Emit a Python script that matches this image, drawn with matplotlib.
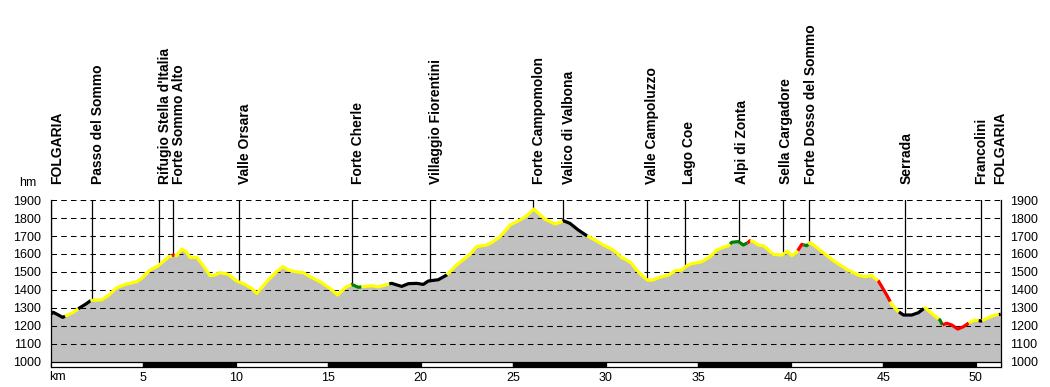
import numpy as np
import matplotlib
matplotlib.use("Agg")
import matplotlib.pyplot as plt
from matplotlib.patches import Rectangle

plt.rcParams["font.family"] = ["Liberation Sans", "DejaVu Sans"]
plt.rcParams["lines.scale_dashes"] = False

# ── Data ──────────────────────────────────────────────────────────────────────

dist_km = [0.0, 0.14, 0.4, 0.65, 0.83, 1.2, 1.58, 1.9, 2.13, 2.31, 2.76, 3.1,
           3.57, 4.02, 4.65, 4.92, 5.37, 5.82, 6.36, 6.63, 6.81, 7.08, 7.32,
           7.53, 7.89, 8.25, 8.61, 8.88, 9.15, 9.6, 9.96, 10.14, 10.5, 10.86,
           11.14, 11.76, 12.21, 12.54, 12.85, 13.21, 13.66, 14.02, 14.56, 15.1,
           15.51, 16.0, 16.27, 16.63, 16.9, 17.35, 17.71, 18.25, 18.43, 18.97,
           19.33, 19.78, 20.14, 20.41, 20.95, 21.4, 21.94, 22.66, 23.02, 23.56,
           23.83, 24.29, 24.83, 25.37, 25.73, 26.11, 26.72, 27.26, 27.53, 27.71,
           28.07, 28.52, 28.97, 29.33, 29.87, 30.41, 30.86, 31.04, 31.4, 31.67,
           31.94, 32.27, 32.57, 32.85, 33.39, 33.74, 34.1, 34.38, 34.64, 35.19,
           35.64, 36.0, 36.36, 36.63, 36.81, 37.17, 37.44, 37.71, 37.8, 37.98,
           38.25, 38.52, 38.7, 39.06, 39.51, 39.84, 40.05, 40.32, 40.6, 40.86,
           41.04, 41.4, 41.85, 42.39, 43.1, 43.65, 44.0, 44.38, 44.74, 45.19,
           45.46, 45.82, 46.1, 46.54, 46.9, 47.26, 47.62, 48.07, 48.2, 48.43,
           48.7, 49.03, 49.33, 49.6, 49.93, 50.3, 50.68, 51.04, 51.35]
elev_m = [1265, 1276, 1262, 1248, 1257, 1275, 1302, 1322, 1339, 1343, 1346, 1368,
          1413, 1431, 1446, 1465, 1511, 1535, 1583, 1594, 1591, 1628, 1613,
          1581, 1581, 1535, 1480, 1483, 1496, 1487, 1456, 1446, 1431, 1409,
          1381, 1456, 1502, 1530, 1511, 1502, 1496, 1474, 1446, 1409,
          1372, 1419, 1431, 1415, 1419, 1424, 1417, 1433, 1437, 1420,
          1435, 1437, 1431, 1450, 1457, 1483, 1539, 1598, 1641, 1650,
          1663, 1696, 1761, 1789, 1813, 1850, 1793, 1767, 1776, 1785,
          1770, 1733, 1702, 1683, 1650, 1622, 1581, 1572, 1548, 1511,
          1483, 1454, 1456, 1469, 1483, 1506, 1511, 1535, 1546, 1557,
          1585, 1622, 1637, 1646, 1665, 1669, 1650, 1665, 1674, 1669,
          1650, 1646, 1631, 1598, 1594, 1616, 1591, 1609, 1654, 1646,
          1663, 1637, 1600, 1557, 1511, 1483, 1474, 1480, 1450, 1372,
          1320, 1280, 1261, 1261, 1274, 1302, 1270, 1233, 1206, 1215,
          1206, 1183, 1196, 1215, 1233, 1228, 1246, 1261, 1265]

# surface / difficulty segments along the route
seg_start = [0.0, 0.78, 1.49, 2.16, 6.55, 6.7, 16.25, 16.8, 18.3, 21.42, 27.67,
             29.0, 36.72, 37.66, 37.82, 40.38, 40.68, 40.95, 44.72, 45.38,
             45.85, 47.2, 48.0, 48.2, 49.62, 50.16, 50.34, 51.25]
seg_color = ["black", "yellow", "black", "yellow", "red", "yellow", "green",
             "yellow", "black", "yellow", "black", "yellow", "green", "red",
             "yellow", "red", "green", "yellow", "red", "yellow", "black",
             "yellow", "green", "red", "yellow", "black", "yellow", "black"]

wp_names = ["FOLGARIA", "Passo del Sommo", "Rifugio Stella d'Italia",
            "Forte Sommo Alto", "Valle Orsara", "Forte Cherle",
            "Villaggio Fiorentini", "Forte Campomolon", "Valico di Valbona",
            "Valle Campoluzzo", "Lago Coe", "Alpi di Zonta", "Sella Cargadore",
            "Forte Dosso del Sommo", "Serrada", "Francolini", "FOLGARIA"]
wp_km = [0.0, 2.22, 5.84, 6.63, 10.2, 16.3, 20.49, 26.09, 27.7, 32.25, 34.3,
         37.19, 39.6, 41.0, 46.2, 50.3, 51.35]

y_ticks = list(range(1000, 2000, 100))
x_ticks = list(range(5, 55, 5))

# ── Plot ──────────────────────────────────────────────────────────────────────

x = np.array(dist_km)
h = np.array(elev_m)
total = x[-1]
y_bot, y_top = 975, 1900

fig = plt.figure(figsize=(10.5, 3.87), dpi=100)
ax = fig.add_axes([50.7 / 1050, (387 - 366.5) / 387, 950 / 1050, 166.5 / 387])
ax.set_xlim(0, total)
ax.set_ylim(y_bot, y_top)

ax.fill_between(x, h, 1000, color="#c0c0c0", lw=0, zorder=1)
for yv in y_ticks[1:]:
    ax.axhline(yv, color="black", lw=0.75, ls=(0, (4, 3)), zorder=2)

# coloured profile line
seg_end = seg_start[1:] + [total]
for a, b, c in zip(seg_start, seg_end, seg_color):
    xs = np.concatenate([[a], x[(x > a) & (x < b)], [b]])
    ax.plot(xs, np.interp(xs, x, h), color=c, lw=2.3,
            solid_capstyle="butt", zorder=4)

# km bar, alternating every 5 km
starts = np.arange(0, total, 5)
for i, s in enumerate(starts):
    w = min(5, total - s)
    ax.add_patch(Rectangle((s, y_bot), w, 1000 - y_bot,
                           facecolor="white" if i % 2 == 0 else "black",
                           edgecolor="black", lw=0.9, zorder=5, clip_on=False))

# waypoint lines and labels
for name, k in zip(wp_names, wp_km):
    top_h = np.interp(k, x, h)
    ax.plot([k, k], [top_h, y_top], color="black", lw=0.9, zorder=3)
    off = min(6.0, 6.0 - (k - 26) * 0.26)
    ax.annotate(name, xy=(k, y_top), xytext=(off, 16), textcoords="offset pixels",
                rotation=90, ha="center", va="bottom", fontsize=10,
                fontweight="bold", annotation_clip=False)

for side in ["top", "bottom"]:
    ax.spines[side].set_visible(False)
for side in ["left", "right"]:
    ax.spines[side].set_linewidth(0.9)

ax.set_yticks(y_ticks)
ax.set_xticks(x_ticks)
ax.tick_params(axis="y", length=0, pad=7, labelsize=9, labelright=True)
ax.tick_params(axis="x", length=0, pad=4, labelsize=9)
ax.text(-2 / 950, -10.5 / 166.5, "km", transform=ax.transAxes, ha="left",
        va="center", fontsize=9)
ax.text(-23 / 950, 1.105, "hm", transform=ax.transAxes, ha="center",
        va="center", fontsize=9)

fig.savefig("out.png", dpi=100)
